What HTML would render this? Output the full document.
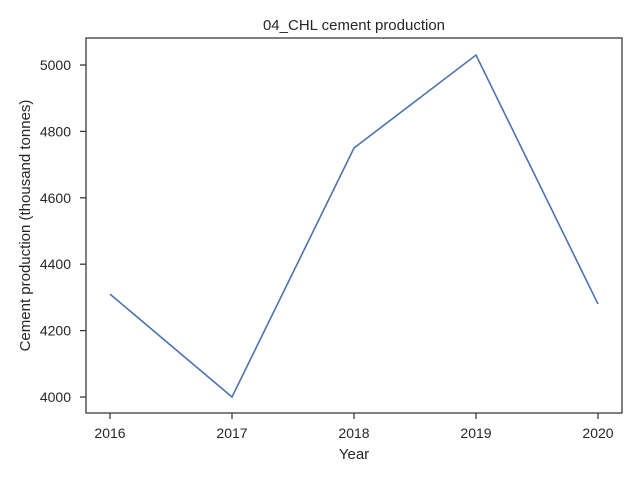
<!DOCTYPE html>
<html><head><meta charset="utf-8"><style>body{margin:0;background:#fff}svg{display:block;font-family:"Liberation Sans","DejaVu Sans",sans-serif}</style></head>
<body>
<svg id="chart" width="640" height="480">
<rect width="640" height="480" fill="#fff"/>
</svg>
<script>
const years=[2016,2017,2018,2019,2020];
const production=[4310,4000,4750,5030,4280];
const yTicks=[4000,4200,4400,4600,4800,5000];
const L=86,R=622,T=38,B=413;
const xs=y=>110+(y-2016)*122;
const ys=v=>397-(v-4000)*0.332;
const svg=document.getElementById('chart');
const NS='http://www.w3.org/2000/svg';
function mk(tag,attrs,txt){const e=document.createElementNS(NS,tag);for(const k in attrs)e.setAttribute(k,attrs[k]);if(txt!==undefined)e.textContent=txt;svg.appendChild(e);return e;}
years.forEach(y=>{
 const t=mk('line',{x1:xs(y),x2:xs(y),y1:B,y2:B+6,stroke:'#333','stroke-width':1.25});
 
 
 const l=mk('text',{x:xs(y),y:B+25,'text-anchor':'middle','font-size':14,fill:'#262626'},y);
 
 
});
yTicks.forEach(v=>{
 const t=mk('line',{x1:L-6,x2:L,y1:ys(v),y2:ys(v),stroke:'#333','stroke-width':1.25});
 
 
 const l=mk('text',{x:L-15,y:ys(v)+5,'text-anchor':'end','font-size':14,fill:'#262626'},v);
 
 
});
const pts=years.map((y,i)=>xs(y)+','+ys(production[i])).join(' ');
const line=mk('polyline',{points:pts,fill:'none',stroke:'#4c72b0','stroke-width':1.6});


const frame=mk('rect',{x:L,y:T,width:R-L,height:B-T,fill:'none',stroke:'#333','stroke-width':1.25});


const title=mk('text',{x:(L+R)/2,y:T-8,'text-anchor':'middle','font-size':15,fill:'#262626'},'04_CHL cement production');


const xt=mk('text',{x:(L+R)/2,y:459,'text-anchor':'middle','font-size':15,fill:'#262626'},'Year');


const yt=mk('text',{x:30,y:(T+B)/2,'text-anchor':'middle','font-size':15,fill:'#262626',transform:'rotate(-90 30 '+((T+B)/2)+')'},'Cement production (thousand tonnes)');


</script>
</body></html>
